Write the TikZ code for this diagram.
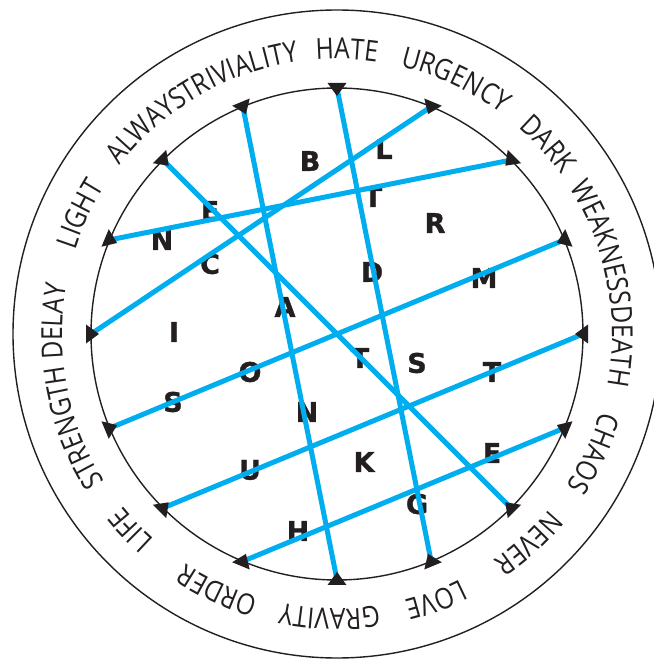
\documentclass[tikz,border=0pt]{standalone}
\usepackage{fontspec}
\usepackage{tikz}
\usetikzlibrary{calc,decorations.text}
\newfontfamily\rimfont{Open Sans}[FakeStretch=0.85]
\newfontfamily\letterfont{DejaVu Sans}[BoldFeatures={FakeBold=1.2}]
\definecolor{cyan2}{RGB}{0,174,239}
\definecolor{ink}{RGB}{35,31,32}
\tikzset{
  rimcircle/.style={draw=ink, line width=0.7pt},
  cordline/.style={draw=cyan2, line width=2.5pt},
  marker/.style={fill=ink},
  letterbox/.style={font=\letterfont\bfseries\fontsize{13.5}{15}\selectfont, text=ink, inner sep=0pt},
  rimword/.style={decorate, decoration={text along path, text align=center, text color=ink,
    text={|\rimfont\fontsize{14.5}{17}\selectfont|#1}}}
}
\begin{document}
\begin{tikzpicture}[x=0.5pt, y=0.5pt]
\useasboundingbox (0,0) rectangle (654,660);
\coordinate (c) at (337,326);
\draw[rimcircle] (c) circle[radius=324];
\draw[rimcircle] (c) circle[radius=246];

\foreach \w/\a/\t in {HATE/90/88, URGENCY/67.5/65, DARK/45/42, WEAKNESS/22.5/19,
    DEATH/0/-2.5, CHAOS/-22.5/-25, NEVER/-45/-47.5, LOVE/-67.5/-69.5,
    GRAVITY/-90/-91.5, ORDER/-112.5/-115, LIFE/-135/-136.5, STRENGTH/-157.5/-160.5,
    DELAY/180/177.5, LIGHT/157.5/155, ALWAYS/135/132.5, TRIVIALITY/112.5/110.5}{
  \coordinate (\w) at ($(c)+({\a}:246)$);
  \path[rimword/.expanded=\w] ($(c)+({\t+30}:275)$) arc[start angle=\t+30, end angle=\t-30, radius=275];
}

\foreach \ch/\x/\y [count=\i] in {B/310/499, L/384/511, E/210/449, T/373/463, R/435/437,
    N/162/420, C/210/396, D/372/388, M/484/382, A/285/353, I/174/328, T/360/302,
    S/417/297, O/250/288, T/492/288, S/173/258, N/307/248, K/364/198, E/492/207,
    U/250/190, G/417/156, H/298/129}
  \node[letterbox] (letter\i) at (\x,\y) {\ch};

\draw[cordline] (TRIVIALITY) -- (GRAVITY);
\draw[cordline] (HATE) -- (LOVE);
\draw[cordline] (URGENCY) -- (DELAY);
\draw[cordline] (DARK) -- (LIGHT);
\draw[cordline] (ALWAYS) -- (NEVER);
\draw[cordline] (WEAKNESS) -- (STRENGTH);
\draw[cordline] (DEATH) -- (LIFE);
\draw[cordline] (CHAOS) -- (ORDER);

\foreach \w/\a in {HATE/90, URGENCY/67.5, DARK/45, WEAKNESS/22.5, DEATH/0, CHAOS/-22.5,
    NEVER/-45, LOVE/-67.5, GRAVITY/-90, ORDER/-112.5, LIFE/-135, STRENGTH/-157.5,
    DELAY/180, LIGHT/157.5, ALWAYS/135, TRIVIALITY/112.5}
  \fill[marker] ($(\w)+({\a}:5)+({\a+90}:9.5)$) -- ($(\w)+({\a}:5)+({\a-90}:9.5)$)
    -- ($(\w)+({\a+180}:8)$) -- cycle;
\end{tikzpicture}
\end{document}
